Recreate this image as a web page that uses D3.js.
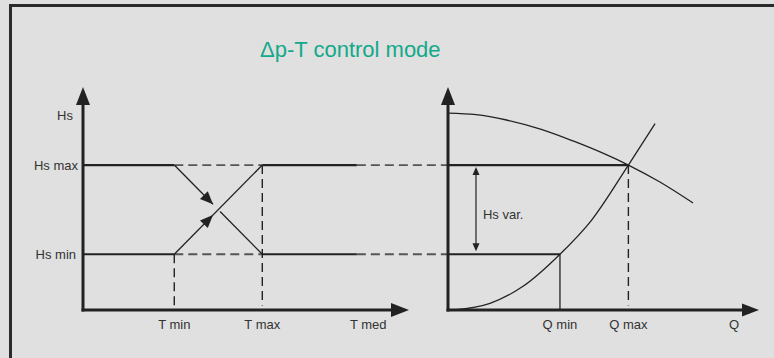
<!DOCTYPE html>
<html>
<head>
<meta charset="utf-8">
<script src="https://cdn.jsdelivr.net/npm/d3@7"></script>
<style>
  body { margin: 0; background: #e0e0e0; }
  text { font-family: Arial, "Liberation Sans", sans-serif; fill: #333; }
</style>
</head>
<body>
<div id="chart"></div>
<script>
// head levels (shared by both panels), 0..100 units
const hsNames = ["Hs max", "Hs min"];
const hsValues = [65, 25];

// left panel: temperature axis
const tLabels = ["T min", "T max", "T med"];
const tValues = [28, 55, 86];
const tSolidEnd = 84;

// right panel: flow axis
const qLabels = ["Q min", "Q max", "Q"];
const qValues = [36, 58, 92];

// pump curve and system curve (Q, H)
const pumpQ = [0, 9, 18.8, 30, 40.2, 50, 58, 68, 78.8];
const pumpH = [88.3, 87.6, 85.2, 81, 75.8, 70.2, 65, 57.5, 48];
const sysQ = [2, 13.5, 24, 36, 46, 58, 66.6];
const sysH = [0, 3, 10.5, 25, 40, 65, 83.6];

const W = 774, H = 358;

const svg = d3.select("#chart").append("svg")
  .attr("width", W)
  .attr("height", H);

svg.append("rect").attr("width", W).attr("height", H).attr("fill", "#e0e0e0");

// frame (left + top only)
svg.append("path")
  .attr("d", "M10.5,400V5.5H800")
  .attr("fill", "none")
  .attr("stroke", "#2b2b2b")
  .attr("stroke-width", 3);

// scales
const yH = d3.scaleLinear().domain([0, 100]).range([310, 87]);
const xT = d3.scaleLinear().domain([0, 100]).range([83, 409]);
const xQ = d3.scaleLinear().domain([0, 100]).range([448, 759]);

const ink = "#222";
const dashCol = "#555";
const fs = "13px";

function seg(x1, y1, x2, y2, w, col, dash) {
  svg.append("line")
    .attr("x1", x1).attr("y1", y1).attr("x2", x2).attr("y2", y2)
    .attr("stroke", col || ink)
    .attr("stroke-width", w)
    .attr("stroke-dasharray", dash || null);
}

// triangle arrowhead with tip at (x2,y2) pointing along (x1,y1)->(x2,y2)
function head(x1, y1, x2, y2, len, half) {
  const a = Math.atan2(y2 - y1, x2 - x1);
  const bx = x2 - len * Math.cos(a), by = y2 - len * Math.sin(a);
  const px = -Math.sin(a) * half, py = Math.cos(a) * half;
  svg.append("path")
    .attr("d", "M" + x2 + "," + y2 + "L" + (bx + px) + "," + (by + py) + "L" + (bx - px) + "," + (by - py) + "Z")
    .attr("fill", ink);
}

// title
svg.append("text")
  .attr("x", 260)
  .attr("y", 57)
  .style("font-size", "22px")
  .style("fill", "#13a98b")
  .text("\u0394p-T control mode");

// ----- left panel -----
const dash = "9,5";
hsValues.forEach(function (h, i) {
  const y = yH(h);
  seg(xT(0), y, xT(tValues[0]), y, 2.2);
  seg(xT(tValues[0]), y, xT(tValues[1]), y, 1.8, dashCol, dash);
  seg(xT(tValues[1]), y, xT(tSolidEnd), y, 2.2);
  seg(xT(tSolidEnd), y, xQ(0), y, 1.8, dashCol, dash);
  svg.append("text")
    .attr("x", i === 0 ? 78 : 76)
    .attr("y", y + 4.5)
    .attr("text-anchor", "end")
    .style("font-size", fs)
    .text(hsNames[i]);
});

// vertical dashed at T min / T max
seg(xT(tValues[0]), yH(hsValues[1]), xT(tValues[0]), yH(1), 1.4, ink, "9,5");
seg(xT(tValues[1]), yH(hsValues[0]), xT(tValues[1]), yH(2), 1.4, ink, "9,5");

// crossing arrows
(function () {
  const x0 = xT(tValues[0]), x1 = xT(tValues[1]);
  const yMax = yH(hsValues[0]), yMin = yH(hsValues[1]);
  // down line (Hs max -> Hs min), broken at crossing
  const p = function (t) { return [x0 + (x1 - x0) * t, yMax + (yMin - yMax) * t]; };
  const a = p(0.44), b = p(0.52);
  seg(x0, yMax, a[0], a[1], 1.3);
  head(x0, yMax, a[0], a[1], 13, 5.5);
  seg(b[0], b[1], x1, yMin, 1.3);
  // up line (Hs min -> Hs max), continuous
  const q = function (t) { return [x0 + (x1 - x0) * t, yMin + (yMax - yMin) * t]; };
  const c = q(0.44);
  seg(x0, yMin, x1, yMax, 1.3);
  head(x0, yMin, c[0], c[1], 13, 5.5);
})();

// left axes
seg(xT(0), yH(0) + 1.5, xT(0), yH(100) + 14, 3);
head(xT(0), yH(0), xT(0), yH(100), 18, 7);
seg(xT(0) - 1.5, yH(0), xT(100) - 14, yH(0), 3);
head(xT(0), yH(0), xT(100), yH(0), 18, 7);

svg.append("text")
  .attr("x", 73).attr("y", 120)
  .attr("text-anchor", "end")
  .style("font-size", fs)
  .text("Hs");

tLabels.forEach(function (l, i) {
  svg.append("text")
    .attr("x", i === 2 ? xT(87.5) : xT(tValues[i]))
    .attr("y", 329)
    .attr("text-anchor", "middle")
    .style("font-size", fs)
    .text(l);
});

// ----- right panel -----
const line = d3.line()
  .x(function (d) { return xQ(d[0]); })
  .y(function (d) { return yH(d[1]); })
  .curve(d3.curveMonotoneX);

svg.append("path")
  .datum(d3.zip(pumpQ, pumpH))
  .attr("d", line)
  .attr("fill", "none")
  .attr("stroke", ink)
  .attr("stroke-width", 1.3);

svg.append("path")
  .datum(d3.zip(sysQ, sysH))
  .attr("d", line)
  .attr("fill", "none")
  .attr("stroke", ink)
  .attr("stroke-width", 1.3);

// Hs levels in right panel
seg(xQ(0), yH(hsValues[0]), xQ(qValues[1]), yH(hsValues[0]), 2.2);
seg(xQ(0), yH(hsValues[1]), xQ(qValues[0]), yH(hsValues[1]), 2.2);
// Q min solid, Q max dashed
seg(xQ(qValues[0]), yH(hsValues[1]), xQ(qValues[0]), yH(0), 1.3);
seg(xQ(qValues[1]), yH(hsValues[0]), xQ(qValues[1]), yH(2), 1.4, ink, "9,5");

// Hs var. double arrow
(function () {
  const x = xQ(9);
  const y1 = yH(hsValues[0]) + 2, y2 = yH(hsValues[1]) - 3;
  seg(x, y1 + 6, x, y2 - 6, 1.2);
  head(x, y2, x, y1, 8, 3.5);
  head(x, y1, x, y2, 8, 3.5);
  svg.append("text")
    .attr("x", x + 7).attr("y", 219)
    .style("font-size", fs)
    .text("Hs var.");
})();

// right axes
seg(xQ(0), yH(0) + 1.5, xQ(0), yH(100) + 14, 3);
head(xQ(0), yH(0), xQ(0), yH(100), 18, 7);
seg(xQ(0) - 1.5, yH(0), xQ(100) - 14, yH(0), 3);
head(xQ(0), yH(0), xQ(100), yH(0), 17, 6.5);

qLabels.forEach(function (l, i) {
  svg.append("text")
    .attr("x", xQ(qValues[i]))
    .attr("y", 329)
    .attr("text-anchor", "middle")
    .style("font-size", fs)
    .text(l);
});
</script>
</body>
</html>
